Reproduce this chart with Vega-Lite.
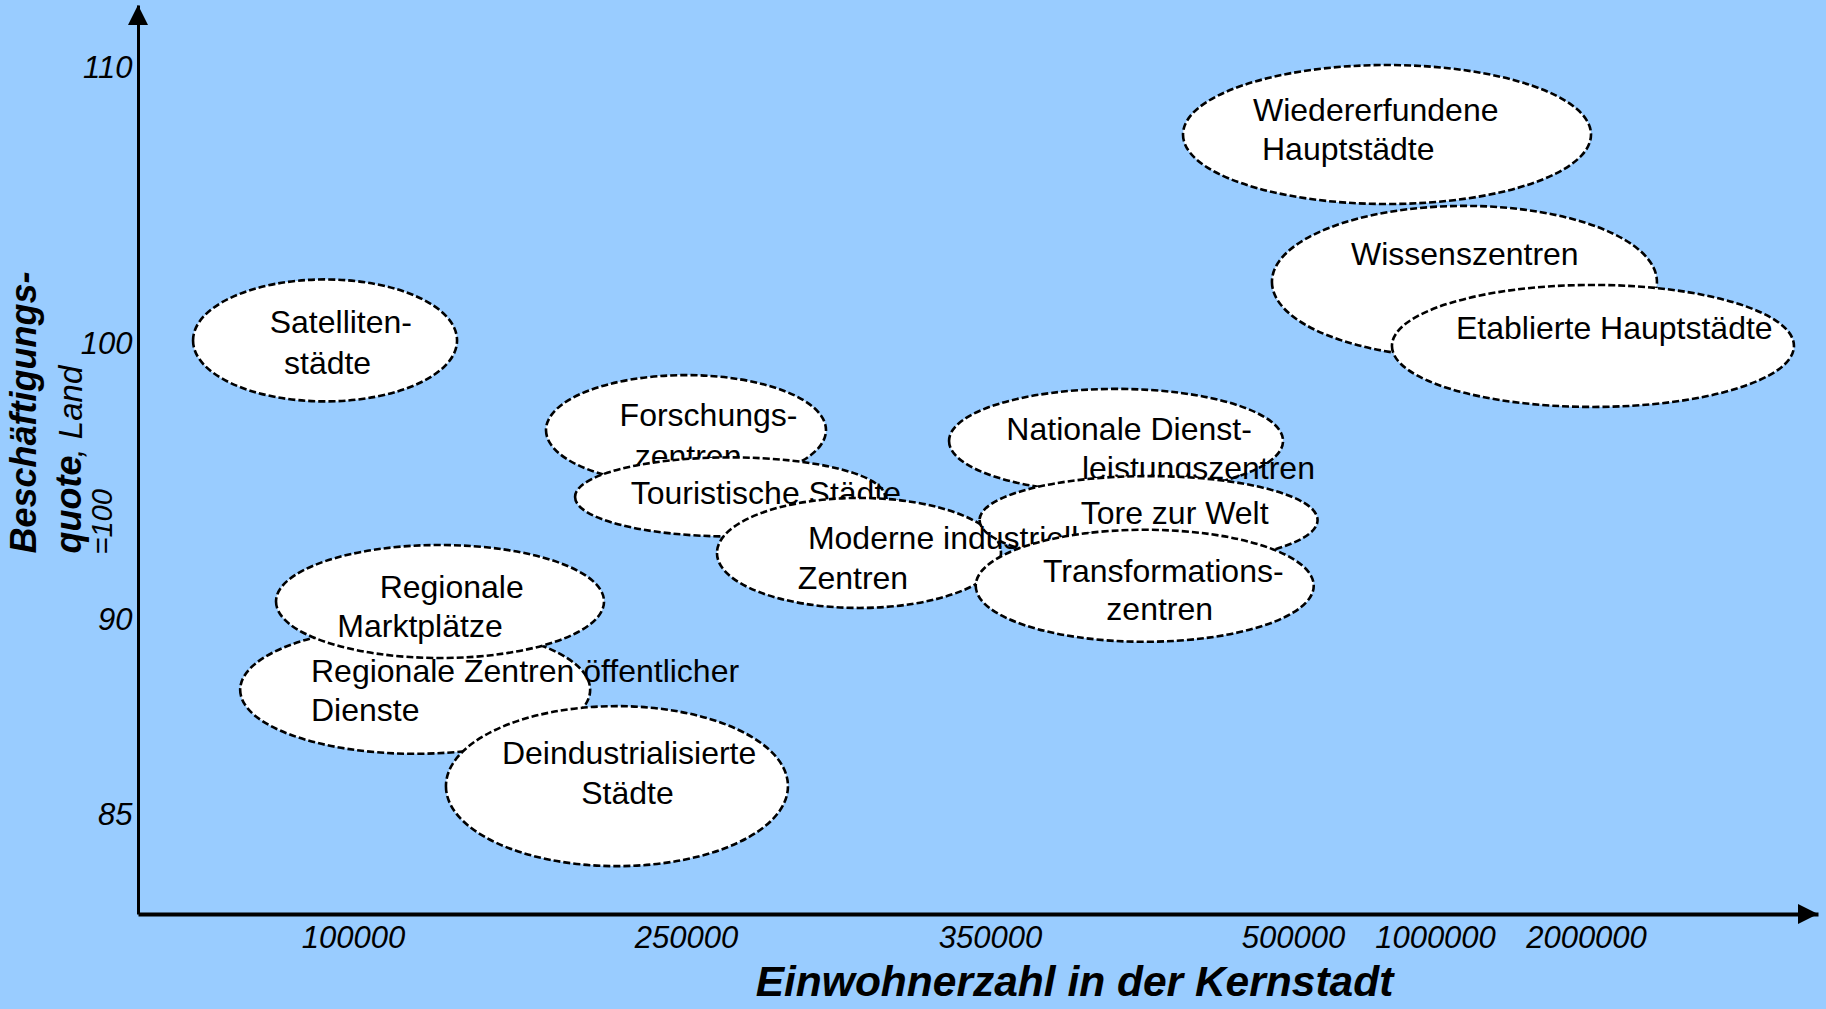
{
  "$schema": "https://vega.github.io/schema/vega-lite/v6.json",
  "width": 1680,
  "height": 909,
  "autosize": {"type": "none"},
  "padding": {"left": 138, "top": 5, "right": 8, "bottom": 95},
  "background": "#99CCFF",
  "config": {"view": {"stroke": null}, "font": "Liberation Sans"},
  "datasets": {
    "ellipsen": [
      {"typ": "Satellitenstädte", "einwohner": 87000, "quote": 100.13},
      {"typ": "Wiedererfundene Hauptstädte", "einwohner": 831000, "quote": 107.59},
      {"typ": "Wissenszentren", "einwohner": 1195000, "quote": 102.25},
      {"typ": "Etablierte Hauptstädte", "einwohner": 2030000, "quote": 99.93},
      {"typ": "Regionale Zentren öffentlicher Dienste", "einwohner": 128000, "quote": 88.21},
      {"typ": "Regionale Marktplätze", "einwohner": 139200, "quote": 90.67},
      {"typ": "Deindustrialisierte Städte", "einwohner": 218900, "quote": 85.74},
      {"typ": "Forschungszentren", "einwohner": 250000, "quote": 96.88},
      {"typ": "Touristische Städte", "einwohner": 264500, "quote": 94.46},
      {"typ": "Moderne industrielle Zentren", "einwohner": 306900, "quote": 92.43},
      {"typ": "Nationale Dienstleistungszentren", "einwohner": 412400, "quote": 96.49},
      {"typ": "Tore zur Welt", "einwohner": 428500, "quote": 93.62},
      {"typ": "Transformationszentren", "einwohner": 426600, "quote": 91.24}
    ],
    "beschriftung": [
      {"typ": "Satellitenstädte", "zeile": "Satelliten-", "einwohner": 61250, "quote": 100.76},
      {"typ": "Satellitenstädte", "zeile": "städte", "einwohner": 67900, "quote": 99.28},
      {"typ": "Wiedererfundene Hauptstädte", "zeile": "Wiedererfundene", "einwohner": 480200, "quote": 108.44},
      {"typ": "Wiedererfundene Hauptstädte", "zeile": "Hauptstädte", "einwohner": 484650, "quote": 107.03},
      {"typ": "Wissenszentren", "zeile": "Wissenszentren", "einwohner": 704200, "quote": 103.22},
      {"typ": "Etablierte Hauptstädte", "zeile": "Etablierte Hauptstädte", "einwohner": 1139100, "quote": 100.53},
      {"typ": "Regionale Zentren öffentlicher Dienste", "zeile": "Regionale Zentren öffentlicher", "einwohner": 80460, "quote": 88.67},
      {"typ": "Regionale Zentren öffentlicher Dienste", "zeile": "Dienste", "einwohner": 80460, "quote": 87.67},
      {"typ": "Regionale Marktplätze", "zeile": "Regionale", "einwohner": 112000, "quote": 91.16},
      {"typ": "Regionale Marktplätze", "zeile": "Marktplätze", "einwohner": 92690, "quote": 89.82},
      {"typ": "Deindustrialisierte Städte", "zeile": "Deindustrialisierte", "einwohner": 167100, "quote": 86.56},
      {"typ": "Deindustrialisierte Städte", "zeile": "Städte", "einwohner": 202800, "quote": 85.53},
      {"typ": "Forschungszentren", "zeile": "Forschungs-", "einwohner": 220100, "quote": 97.39},
      {"typ": "Forschungszentren", "zeile": "zentren", "einwohner": 226900, "quote": 95.91},
      {"typ": "Touristische Städte", "zeile": "Touristische Städte", "einwohner": 225100, "quote": 94.55},
      {"typ": "Moderne industrielle Zentren", "zeile": "Moderne industrielle", "einwohner": 290100, "quote": 92.93},
      {"typ": "Moderne industrielle Zentren", "zeile": "Zentren", "einwohner": 286800, "quote": 91.49},
      {"typ": "Nationale Dienstleistungszentren", "zeile": "Nationale Dienst-", "einwohner": 358100, "quote": 96.90},
      {"typ": "Nationale Dienstleistungszentren", "zeile": "leistungszentren", "einwohner": 395500, "quote": 95.47},
      {"typ": "Tore zur Welt", "zeile": "Tore zur Welt", "einwohner": 394900, "quote": 93.85},
      {"typ": "Transformationszentren", "zeile": "Transformations-", "einwohner": 376200, "quote": 91.74},
      {"typ": "Transformationszentren", "zeile": "zentren", "einwohner": 407600, "quote": 90.36}
    ]
  },
  "resolve": {"axis": {"x": "independent", "y": "independent"}},
  "layer": [
    {
      "data": {"name": "ellipsen"},
      "transform": [{"filter": {"field": "typ", "oneOf": ["Satellitenstädte", "Wiedererfundene Hauptstädte", "Wissenszentren", "Etablierte Hauptstädte", "Regionale Zentren öffentlicher Dienste", "Regionale Marktplätze", "Deindustrialisierte Städte"]}}],
      "mark": {"type": "point", "filled": true, "size": 4, "fill": "white", "stroke": "black", "strokeWidth": 2.6, "strokeDash": [7, 3], "opacity": 1},
      "encoding": {
        "x": {"field": "einwohner", "type": "quantitative", "scale": {"type": "linear", "domain": [0, 100000, 250000, 350000, 500000, 1000000, 2000000, 3000000], "range": [0, 215, 548, 852, 1155, 1297, 1448, 1680], "nice": false, "zero": false},
          "axis": {"orient": "bottom", "values": [100000, 250000, 350000, 500000, 1000000, 2000000], "format": "d", "title": "Einwohnerzahl in der Kernstadt", "grid": false, "ticks": false, "tickSize": 0, "domain": true, "domainColor": "black", "domainWidth": 4, "labelFont": "Liberation Sans", "labelFontSize": 31, "labelFontStyle": "italic", "labelColor": "black", "labelPadding": 9.5, "labelFlush": false, "labelOverlap": false, "titleFont": "Liberation Sans", "titleFontSize": 42.5, "titleFontWeight": "bold", "titleFontStyle": "italic", "titleColor": "black", "titleX": 936, "titleY": 81, "titleAlign": "center", "titleBaseline": "alphabetic"}},
        "y": {"field": "quote", "type": "quantitative", "scale": {"type": "linear", "domain": [82.46, 85, 90, 100, 110, 112.28], "range": [909, 810, 615, 339, 63, 0], "nice": false, "zero": false},
          "axis": {"orient": "left", "values": [85, 90, 100, 110], "format": "d", "title": ["Beschäftigungs-", "quote"], "grid": false, "ticks": false, "tickSize": 0, "domain": true, "domainColor": "black", "domainWidth": 3, "labelFont": "Liberation Sans", "labelFontSize": 31, "labelFontStyle": "italic", "labelColor": "black", "labelPadding": 6, "labelOverlap": false, "titleFont": "Liberation Sans", "titleFontSize": 36, "titleFontWeight": "bold", "titleFontStyle": "italic", "titleColor": "black", "titleAngle": -90, "titleAlign": "left", "titleBaseline": "alphabetic", "titleX": -103, "titleY": 548, "titleLineHeight": 45}},
        "shape": {"field": "typ", "type": "nominal", "legend": null, "scale": {
          "domain": ["Satellitenstädte", "Wiedererfundene Hauptstädte", "Wissenszentren", "Etablierte Hauptstädte", "Regionale Zentren öffentlicher Dienste", "Regionale Marktplätze", "Deindustrialisierte Städte", "Forschungszentren", "Touristische Städte", "Moderne industrielle Zentren", "Nationale Dienstleistungszentren", "Tore zur Welt", "Transformationszentren"],
          "range": ["M-132,0A132,61,0,1,0,132,0A132,61,0,1,0,-132,0Z", "M-204,0A204,69.5,0,1,0,204,0A204,69.5,0,1,0,-204,0Z", "M-192.5,0A192.5,76,0,1,0,192.5,0A192.5,76,0,1,0,-192.5,0Z", "M-201,0A201,61,0,1,0,201,0A201,61,0,1,0,-201,0Z", "M-175,0A175,64,0,1,0,175,0A175,64,0,1,0,-175,0Z", "M-164,0A164,56.5,0,1,0,164,0A164,56.5,0,1,0,-164,0Z", "M-171,0A171,80,0,1,0,171,0A171,80,0,1,0,-171,0Z", "M-140,0A140,55,0,1,0,140,0A140,55,0,1,0,-140,0Z", "M-155,0A155,39.5,0,1,0,155,0A155,39.5,0,1,0,-155,0Z", "M-142,0A142,55,0,1,0,142,0A142,55,0,1,0,-142,0Z", "M-167,0A167,52,0,1,0,167,0A167,52,0,1,0,-167,0Z", "M-169,0A169,44,0,1,0,169,0A169,44,0,1,0,-169,0Z", "M-169,0A169,56,0,1,0,169,0A169,56,0,1,0,-169,0Z"]}}
      }
    },
    {
      "data": {"name": "beschriftung"},
      "transform": [{"filter": {"field": "typ", "oneOf": ["Satellitenstädte", "Wiedererfundene Hauptstädte", "Wissenszentren", "Etablierte Hauptstädte", "Regionale Zentren öffentlicher Dienste", "Regionale Marktplätze", "Deindustrialisierte Städte"]}}],
      "mark": {"type": "text", "align": "left", "baseline": "middle", "font": "Liberation Sans", "fontSize": 32, "color": "black"},
      "encoding": {
        "x": {"field": "einwohner", "type": "quantitative", "scale": {"type": "linear", "domain": [0, 100000, 250000, 350000, 500000, 1000000, 2000000, 3000000], "range": [0, 215, 548, 852, 1155, 1297, 1448, 1680], "nice": false, "zero": false}, "axis": null},
        "y": {"field": "quote", "type": "quantitative", "scale": {"type": "linear", "domain": [82.46, 85, 90, 100, 110, 112.28], "range": [909, 810, 615, 339, 63, 0], "nice": false, "zero": false}, "axis": null},
        "text": {"field": "zeile", "type": "nominal"}
      }
    },
    {
      "data": {"name": "ellipsen"},
      "transform": [{"filter": {"field": "typ", "oneOf": ["Forschungszentren"]}}],
      "mark": {"type": "point", "filled": true, "size": 4, "fill": "white", "stroke": "black", "strokeWidth": 2.6, "strokeDash": [7, 3], "opacity": 1},
      "encoding": {
        "x": {"field": "einwohner", "type": "quantitative", "scale": {"type": "linear", "domain": [0, 100000, 250000, 350000, 500000, 1000000, 2000000, 3000000], "range": [0, 215, 548, 852, 1155, 1297, 1448, 1680], "nice": false, "zero": false}, "axis": null},
        "y": {"field": "quote", "type": "quantitative", "scale": {"type": "linear", "domain": [82.46, 85, 90, 100, 110, 112.28], "range": [909, 810, 615, 339, 63, 0], "nice": false, "zero": false}, "axis": null},
        "shape": {"field": "typ", "type": "nominal", "legend": null}
      }
    },
    {
      "data": {"name": "beschriftung"},
      "transform": [{"filter": {"field": "typ", "oneOf": ["Forschungszentren"]}}],
      "mark": {"type": "text", "align": "left", "baseline": "middle", "font": "Liberation Sans", "fontSize": 32, "color": "black"},
      "encoding": {
        "x": {"field": "einwohner", "type": "quantitative", "scale": {"type": "linear", "domain": [0, 100000, 250000, 350000, 500000, 1000000, 2000000, 3000000], "range": [0, 215, 548, 852, 1155, 1297, 1448, 1680], "nice": false, "zero": false}, "axis": null},
        "y": {"field": "quote", "type": "quantitative", "scale": {"type": "linear", "domain": [82.46, 85, 90, 100, 110, 112.28], "range": [909, 810, 615, 339, 63, 0], "nice": false, "zero": false}, "axis": null},
        "text": {"field": "zeile", "type": "nominal"}
      }
    },
    {
      "data": {"name": "ellipsen"},
      "transform": [{"filter": {"field": "typ", "oneOf": ["Touristische Städte"]}}],
      "mark": {"type": "point", "filled": true, "size": 4, "fill": "white", "stroke": "black", "strokeWidth": 2.6, "strokeDash": [7, 3], "opacity": 1},
      "encoding": {
        "x": {"field": "einwohner", "type": "quantitative", "scale": {"type": "linear", "domain": [0, 100000, 250000, 350000, 500000, 1000000, 2000000, 3000000], "range": [0, 215, 548, 852, 1155, 1297, 1448, 1680], "nice": false, "zero": false}, "axis": null},
        "y": {"field": "quote", "type": "quantitative", "scale": {"type": "linear", "domain": [82.46, 85, 90, 100, 110, 112.28], "range": [909, 810, 615, 339, 63, 0], "nice": false, "zero": false}, "axis": null},
        "shape": {"field": "typ", "type": "nominal", "legend": null}
      }
    },
    {
      "data": {"name": "beschriftung"},
      "transform": [{"filter": {"field": "typ", "oneOf": ["Touristische Städte"]}}],
      "mark": {"type": "text", "align": "left", "baseline": "middle", "font": "Liberation Sans", "fontSize": 32, "color": "black"},
      "encoding": {
        "x": {"field": "einwohner", "type": "quantitative", "scale": {"type": "linear", "domain": [0, 100000, 250000, 350000, 500000, 1000000, 2000000, 3000000], "range": [0, 215, 548, 852, 1155, 1297, 1448, 1680], "nice": false, "zero": false}, "axis": null},
        "y": {"field": "quote", "type": "quantitative", "scale": {"type": "linear", "domain": [82.46, 85, 90, 100, 110, 112.28], "range": [909, 810, 615, 339, 63, 0], "nice": false, "zero": false}, "axis": null},
        "text": {"field": "zeile", "type": "nominal"}
      }
    },
    {
      "data": {"name": "ellipsen"},
      "transform": [{"filter": {"field": "typ", "oneOf": ["Moderne industrielle Zentren", "Nationale Dienstleistungszentren"]}}],
      "mark": {"type": "point", "filled": true, "size": 4, "fill": "white", "stroke": "black", "strokeWidth": 2.6, "strokeDash": [7, 3], "opacity": 1},
      "encoding": {
        "x": {"field": "einwohner", "type": "quantitative", "scale": {"type": "linear", "domain": [0, 100000, 250000, 350000, 500000, 1000000, 2000000, 3000000], "range": [0, 215, 548, 852, 1155, 1297, 1448, 1680], "nice": false, "zero": false}, "axis": null},
        "y": {"field": "quote", "type": "quantitative", "scale": {"type": "linear", "domain": [82.46, 85, 90, 100, 110, 112.28], "range": [909, 810, 615, 339, 63, 0], "nice": false, "zero": false}, "axis": null},
        "shape": {"field": "typ", "type": "nominal", "legend": null}
      }
    },
    {
      "data": {"name": "beschriftung"},
      "transform": [{"filter": {"field": "typ", "oneOf": ["Nationale Dienstleistungszentren"]}}],
      "mark": {"type": "text", "align": "left", "baseline": "middle", "font": "Liberation Sans", "fontSize": 32, "color": "black"},
      "encoding": {
        "x": {"field": "einwohner", "type": "quantitative", "scale": {"type": "linear", "domain": [0, 100000, 250000, 350000, 500000, 1000000, 2000000, 3000000], "range": [0, 215, 548, 852, 1155, 1297, 1448, 1680], "nice": false, "zero": false}, "axis": null},
        "y": {"field": "quote", "type": "quantitative", "scale": {"type": "linear", "domain": [82.46, 85, 90, 100, 110, 112.28], "range": [909, 810, 615, 339, 63, 0], "nice": false, "zero": false}, "axis": null},
        "text": {"field": "zeile", "type": "nominal"}
      }
    },
    {
      "data": {"name": "ellipsen"},
      "transform": [{"filter": {"field": "typ", "oneOf": ["Tore zur Welt"]}}],
      "mark": {"type": "point", "filled": true, "size": 4, "fill": "white", "stroke": "black", "strokeWidth": 2.6, "strokeDash": [7, 3], "opacity": 1},
      "encoding": {
        "x": {"field": "einwohner", "type": "quantitative", "scale": {"type": "linear", "domain": [0, 100000, 250000, 350000, 500000, 1000000, 2000000, 3000000], "range": [0, 215, 548, 852, 1155, 1297, 1448, 1680], "nice": false, "zero": false}, "axis": null},
        "y": {"field": "quote", "type": "quantitative", "scale": {"type": "linear", "domain": [82.46, 85, 90, 100, 110, 112.28], "range": [909, 810, 615, 339, 63, 0], "nice": false, "zero": false}, "axis": null},
        "shape": {"field": "typ", "type": "nominal", "legend": null}
      }
    },
    {
      "data": {"name": "beschriftung"},
      "transform": [{"filter": {"field": "typ", "oneOf": ["Tore zur Welt", "Moderne industrielle Zentren"]}}],
      "mark": {"type": "text", "align": "left", "baseline": "middle", "font": "Liberation Sans", "fontSize": 32, "color": "black"},
      "encoding": {
        "x": {"field": "einwohner", "type": "quantitative", "scale": {"type": "linear", "domain": [0, 100000, 250000, 350000, 500000, 1000000, 2000000, 3000000], "range": [0, 215, 548, 852, 1155, 1297, 1448, 1680], "nice": false, "zero": false}, "axis": null},
        "y": {"field": "quote", "type": "quantitative", "scale": {"type": "linear", "domain": [82.46, 85, 90, 100, 110, 112.28], "range": [909, 810, 615, 339, 63, 0], "nice": false, "zero": false}, "axis": null},
        "text": {"field": "zeile", "type": "nominal"}
      }
    },
    {
      "data": {"name": "ellipsen"},
      "transform": [{"filter": {"field": "typ", "oneOf": ["Transformationszentren"]}}],
      "mark": {"type": "point", "filled": true, "size": 4, "fill": "white", "stroke": "black", "strokeWidth": 2.6, "strokeDash": [7, 3], "opacity": 1},
      "encoding": {
        "x": {"field": "einwohner", "type": "quantitative", "scale": {"type": "linear", "domain": [0, 100000, 250000, 350000, 500000, 1000000, 2000000, 3000000], "range": [0, 215, 548, 852, 1155, 1297, 1448, 1680], "nice": false, "zero": false}, "axis": null},
        "y": {"field": "quote", "type": "quantitative", "scale": {"type": "linear", "domain": [82.46, 85, 90, 100, 110, 112.28], "range": [909, 810, 615, 339, 63, 0], "nice": false, "zero": false}, "axis": null},
        "shape": {"field": "typ", "type": "nominal", "legend": null}
      }
    },
    {
      "data": {"name": "beschriftung"},
      "transform": [{"filter": {"field": "typ", "oneOf": ["Transformationszentren"]}}],
      "mark": {"type": "text", "align": "left", "baseline": "middle", "font": "Liberation Sans", "fontSize": 32, "color": "black"},
      "encoding": {
        "x": {"field": "einwohner", "type": "quantitative", "scale": {"type": "linear", "domain": [0, 100000, 250000, 350000, 500000, 1000000, 2000000, 3000000], "range": [0, 215, 548, 852, 1155, 1297, 1448, 1680], "nice": false, "zero": false}, "axis": null},
        "y": {"field": "quote", "type": "quantitative", "scale": {"type": "linear", "domain": [82.46, 85, 90, 100, 110, 112.28], "range": [909, 810, 615, 339, 63, 0], "nice": false, "zero": false}, "axis": null},
        "text": {"field": "zeile", "type": "nominal"}
      }
    },
    {
      "data": {"values": [{}]},
      "mark": {"type": "point", "filled": true, "size": 4, "fill": "black", "stroke": null, "opacity": 1, "shape": "M0,0L10,20L-10,20Z"},
      "encoding": {
        "x": {"datum": 0, "type": "quantitative", "scale": {"type": "linear", "domain": [0, 100000, 250000, 350000, 500000, 1000000, 2000000, 3000000], "range": [0, 215, 548, 852, 1155, 1297, 1448, 1680], "nice": false, "zero": false}, "axis": null},
        "y": {"datum": 112.28, "type": "quantitative", "scale": {"type": "linear", "domain": [82.46, 85, 90, 100, 110, 112.28], "range": [909, 810, 615, 339, 63, 0], "nice": false, "zero": false}, "axis": null}
      }
    },
    {
      "data": {"values": [{}]},
      "mark": {"type": "point", "filled": true, "size": 4, "fill": "black", "stroke": null, "opacity": 1, "shape": "M0,0L-20,-10L-20,10Z"},
      "encoding": {
        "x": {"datum": 3000000, "type": "quantitative", "scale": {"type": "linear", "domain": [0, 100000, 250000, 350000, 500000, 1000000, 2000000, 3000000], "range": [0, 215, 548, 852, 1155, 1297, 1448, 1680], "nice": false, "zero": false}, "axis": null},
        "y": {"datum": 82.46, "type": "quantitative", "scale": {"type": "linear", "domain": [82.46, 85, 90, 100, 110, 112.28], "range": [909, 810, 615, 339, 63, 0], "nice": false, "zero": false}, "axis": null}
      }
    },
    {
      "data": {"values": [{}]},
      "mark": {"type": "point", "opacity": 0},
      "encoding": {
        "x": {"datum": 0, "type": "quantitative", "scale": {"type": "linear", "domain": [0, 100000, 250000, 350000, 500000, 1000000, 2000000, 3000000], "range": [0, 215, 548, 852, 1155, 1297, 1448, 1680], "nice": false, "zero": false},
          "axis": {"orient": "top", "title": ", Land", "domain": false, "ticks": false, "labels": false, "grid": false, "titleFont": "Liberation Sans", "titleFontSize": 33, "titleFontStyle": "italic", "titleFontWeight": "normal", "titleColor": "black", "titleAngle": -90, "titleAlign": "left", "titleBaseline": "alphabetic", "titleX": -57, "titleY": 452}},
        "y": {"datum": 100, "type": "quantitative", "scale": {"type": "linear", "domain": [82.46, 85, 90, 100, 110, 112.28], "range": [909, 810, 615, 339, 63, 0], "nice": false, "zero": false},
          "axis": {"orient": "right", "title": "=100", "domain": false, "ticks": false, "labels": false, "grid": false, "titleFont": "Liberation Sans", "titleFontSize": 29, "titleFontStyle": "italic", "titleFontWeight": "normal", "titleColor": "black", "titleAngle": -90, "titleAlign": "left", "titleBaseline": "alphabetic", "titleX": -1707, "titleY": 549}}
      }
    }
  ]
}
